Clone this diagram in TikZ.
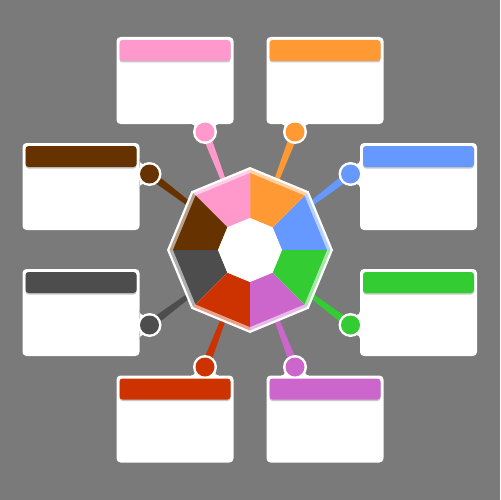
\documentclass[tikz,border=0pt]{standalone}
\usetikzlibrary{calc}
\definecolor{bg}{RGB}{122,122,122}
\definecolor{cpink}{RGB}{255,153,204}
\definecolor{corange}{RGB}{255,153,51}
\definecolor{cblue}{RGB}{102,153,255}
\definecolor{cgreen}{RGB}{51,204,51}
\definecolor{cpurple}{RGB}{204,102,204}
\definecolor{cred}{RGB}{204,51,0}
\definecolor{cdgray}{RGB}{77,77,77}
\definecolor{cbrown}{RGB}{102,51,0}
\tikzset{
  card/.style={fill=white,rounded corners=2.3pt},
  cardtab/.style={draw=white,line width=11pt},
  header/.style={rounded corners=1.7pt}
}

\begin{document}
\begin{tikzpicture}[x=0.02cm,y=-0.02cm]
  \fill[bg] (0,0) rectangle (500,500);
  \useasboundingbox (0,0) rectangle (500,500);
  \coordinate (c) at (250,250);

  % spokes from the knobs to the hub
  \foreach \n/\col/\kx/\ky in {pink/cpink/205/132,orange/corange/295/132,
      brown/cbrown/149.5/174,blue/cblue/350.5/174,dgray/cdgray/149.5/325,
      green/cgreen/350.5/325,red/cred/205/367,purple/cpurple/295/367}{
    \coordinate (k-\n) at (\kx,\ky);
    \fill[\col] ($(k-\n)!2.3pt!90:(c)$) -- (c) -- ($(k-\n)!2.3pt!-90:(c)$) -- cycle;
  }

  % cards, with a tab out to the knob
  \foreach \n/\col/\bx/\by/\ex/\ey in {pink/cpink/116.5/37/205/124,
      orange/corange/266.5/37/295/124,brown/cbrown/22.5/143/139.5/174,
      blue/cblue/360/143/360/174,dgray/cdgray/22.5/269/139.5/325,
      green/cgreen/360/269/360/325,red/cred/116.5/375.5/205/375.5,
      purple/cpurple/266.5/375.5/295/375.5}{
    \fill[card] (\bx,\by) rectangle ++(117,87);
    \coordinate (e-\n) at (\ex,\ey);
    \coordinate (f-\n) at ($(e-\n)!2.3pt!(k-\n)$);
    \fill[white] ($(e-\n)!7.9pt!90:(k-\n)$) -- ($(e-\n)!7.9pt!-90:(k-\n)$)
      -- ($(f-\n)!7.9pt!-90:(k-\n)$) -- ($(f-\n)!7.9pt!90:(k-\n)$) -- cycle;
    \fill[bg] ($(f-\n)!7.9pt!90:(k-\n)$) circle (4)
              ($(f-\n)!7.9pt!-90:(k-\n)$) circle (4);
    \draw[cardtab] (k-\n) -- (e-\n);
    \fill[white] (k-\n) circle (12);
    \fill[\col] (k-\n) circle (9.5);
    \fill[black!22,header] (\bx+3,\by+4.5) rectangle (\bx+114,\by+25.5);
    \fill[\col,header] (\bx+3,\by+3) rectangle (\bx+114,\by+24);
  }

  % hub
  \begin{scope}[shift={(c)},y=0.02cm]
    \fill[white] (0:83) \foreach \a in {45,90,...,315}{ -- (\a:83)} -- cycle;
    \foreach \a/\col in {0/cblue,45/corange,90/cpink,135/cbrown,180/cdgray,
        225/cred,270/cpurple,315/cgreen}{
      \fill[\col!45!white] (\a:80.5) -- (\a+45:80.5) -- (\a+45:32) -- (\a:32) -- cycle;
      \fill[\col] (\a:77) -- (\a+45:77) -- (\a+45:32) -- (\a:32) -- cycle;
    }
    \fill[white] (0:32) \foreach \a in {45,90,...,315}{ -- (\a:32)} -- cycle;
  \end{scope}
\end{tikzpicture}
\end{document}
